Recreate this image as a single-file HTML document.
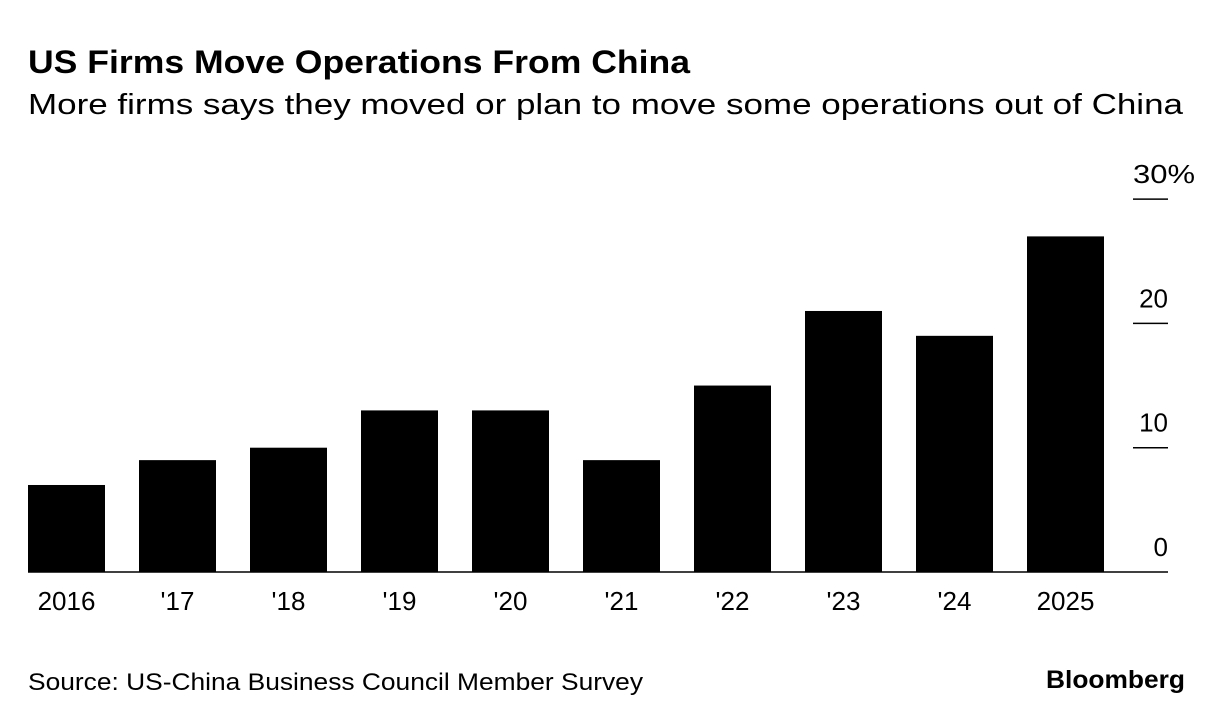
<!DOCTYPE html>
<html><head><meta charset="utf-8"><style>
body{margin:0;background:#fff;font-family:"Liberation Sans",sans-serif;}
svg{display:block}
</style></head><body>
<svg width="1223" height="720">
<text x="28" y="73" font-size="32" font-weight="bold" fill="#000" textLength="662" lengthAdjust="spacingAndGlyphs">US Firms Move Operations From China</text>
<text x="28" y="114" font-size="29" fill="#000" textLength="1155" lengthAdjust="spacingAndGlyphs">More firms says they moved or plan to move some operations out of China</text>
<g id="bars"></g>
<g id="axes"></g>
<text x="28" y="690" font-size="24" fill="#000" textLength="615" lengthAdjust="spacingAndGlyphs">Source: US-China Business Council Member Survey</text>
<text x="1046" y="688" font-size="25" font-weight="bold" fill="#000" textLength="139" lengthAdjust="spacingAndGlyphs">Bloomberg</text>
</svg>
<script>
const categories=["2016","'17","'18","'19","'20","'21","'22","'23","'24","2025"];
const values=[7,9,10,13,13,9,15,21,19,27];
const yTicks=[0,10,20,30];
const yTickLabels=["0","10","20","30%"];
const NS="http://www.w3.org/2000/svg";
const y0=572,pxPer=12.43;
function yScale(v){return y0-v*pxPer;}
function xScale(i){return 28+i*111;}
const bw=77;
const bars=document.getElementById('bars');
const axes=document.getElementById('axes');
function mk(tag,attrs,parent){const e=document.createElementNS(NS,tag);for(const k in attrs)e.setAttribute(k,attrs[k]);parent.appendChild(e);return e;}
values.forEach((v,i)=>{
  const r=mk('rect',{x:xScale(i),y:yScale(v),width:bw,height:y0-yScale(v),fill:'#000'},bars);
  
  
  const t=mk('text',{x:xScale(i)+bw/2,y:610,'font-size':26,'text-anchor':'middle',fill:'#000'},axes);
  t.textContent=categories[i];
  
  
});
const base=mk('line',{x1:28,x2:1168,y1:y0,y2:y0,stroke:'#000','stroke-width':1.5},axes);


yTicks.forEach((v,i)=>{
  const y=yScale(v);
  if(v>0){
    const l=mk('line',{x1:1133,x2:1168,y1:y,y2:y,stroke:'#000','stroke-width':1.5},axes);
    
    
  }
  const lab=yTickLabels[i];
  const attrs={x:lab.endsWith('%')?1133:1168,y:y-16,'font-size':26,'text-anchor':lab.endsWith('%')?'start':'end',fill:'#000'};
  if(lab.endsWith('%')){attrs.textLength=62;attrs.lengthAdjust='spacingAndGlyphs';}
  const t=mk('text',attrs,axes);
  t.textContent=lab;
  
  
});
</script>
</body></html>
